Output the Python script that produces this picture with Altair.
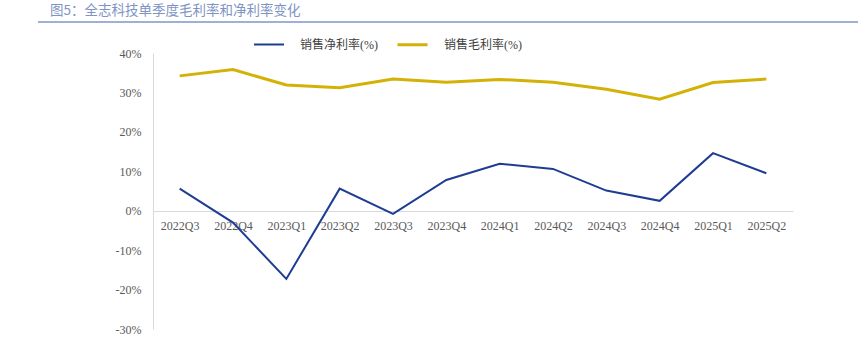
import altair as alt
import pandas as pd

quarters = ["2022Q3", "2022Q4", "2023Q1", "2023Q2", "2023Q3", "2023Q4",
            "2024Q1", "2024Q2", "2024Q3", "2024Q4", "2025Q1", "2025Q2"]
net_margin = [5.6, -3.0, -17.3, 5.6, -0.8, 7.8, 11.9, 10.6, 5.1, 2.5, 14.6, 9.5]
gross_margin = [34.2, 35.8, 31.9, 31.2, 33.4, 32.6, 33.3, 32.6, 30.8, 28.3, 32.5, 33.4]
series_names = ["销售净利率(%)", "销售毛利率(%)"]
series_colors = ["#1f3c93", "#d4b106"]
title_text = "图5：全志科技单季度毛利率和净利率变化"

rows = []
for i, q in enumerate(quarters):
    rows.append({"q": q, "s": series_names[0], "v": net_margin[i] / 100})
    rows.append({"q": q, "s": series_names[1], "v": gross_margin[i] / 100})
df = pd.DataFrame(rows)

serif = "Times New Roman, Liberation Serif, Noto Sans CJK SC"

base = alt.Chart(df)

lines = base.mark_line().encode(
    x=alt.X("q:N", sort=quarters, title=None,
            scale=alt.Scale(type="point", padding=0.5),
            axis=alt.Axis(labelAngle=0, ticks=False, domainColor="#d9d9d9",
                          labelFont=serif, labelFontSize=12, labelColor="#595959",
                          offset=-118, labelPadding=9)),
    y=alt.Y("v:Q", title=None,
            scale=alt.Scale(domain=[-0.3, 0.4], nice=False, zero=False),
            axis=alt.Axis(values=[-0.3, -0.2, -0.1, 0, 0.1, 0.2, 0.3, 0.4],
                          labelExpr="replace(format(datum.value, '.0%'), '\u2212', '-')",
                          grid=False, ticks=False, domainColor="#d9d9d9",
                          labelFont=serif, labelFontSize=12, labelColor="#595959",
                          labelPadding=12)),
    color=alt.Color("s:N", scale=alt.Scale(domain=series_names, range=series_colors),
                    title=None,
                    legend=alt.Legend(orient="none", legendX=100, legendY=-25,
                                      direction="horizontal", symbolType="stroke",
                                      symbolSize=900, symbolStrokeWidth=2.5,
                                      labelFont=serif, labelFontSize=12,
                                      labelColor="#404040", labelOffset=15,
                                      columnPadding=13)),
    strokeWidth=alt.StrokeWidth("s:N", scale=alt.Scale(domain=series_names, range=[2, 3]),
                                legend=None),
)

title_df = pd.DataFrame({"t": [title_text]})
title = alt.Chart(title_df).mark_text(
    align="left", baseline="middle", fontSize=13.5, color="#8094c4",
    font="Noto Sans CJK SC"
).encode(text="t:N", x=alt.value(-103), y=alt.value(-42))

underline = alt.Chart(title_df).mark_rule(color="#7f95c8", strokeWidth=1.5).encode(
    x=alt.value(-115), x2=alt.value(705), y=alt.value(-31))

chart = alt.layer(lines, title, underline).properties(
    width=640, height=276,
    autosize=alt.AutoSizeParams(type="none"),
    padding={"left": 153, "top": 53, "right": 65, "bottom": 16},
).configure_view(stroke=None)

chart.save("out.html", embed_options={"renderer": "svg", "actions": False})
